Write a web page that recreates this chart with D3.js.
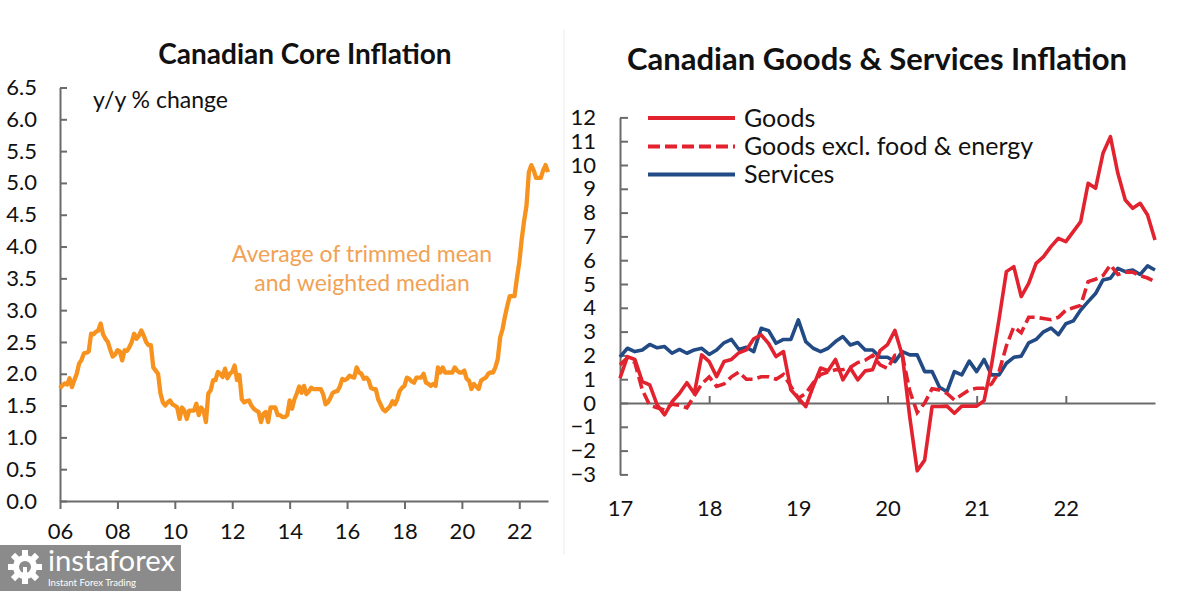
<!DOCTYPE html>
<html>
<head>
<meta charset="utf-8">
<script src="https://cdn.jsdelivr.net/npm/d3@7"></script>
<style>
  html, body { margin: 0; padding: 0; background: #fff; }
  svg { display: block; }
  text { font-family: Lato, "Open Sans", sans-serif; }
</style>
</head>
<body>
<svg id="chart" width="1190" height="591"></svg>
<script>
// ---------------- DATA ----------------
// Left panel: Canadian core inflation, monthly Jan 2006 .. Jan 2023 (y/y %)
const coreInflation = [
  1.77,1.82,1.85,1.83,1.93,1.79,1.90,2.00,2.16,2.22,2.32,2.33, // 2006
  2.35,2.63,2.62,2.66,2.68,2.79,2.62,2.55,2.50,2.38,2.27,2.30, // 2007
  2.37,2.35,2.21,2.37,2.36,2.42,2.50,2.63,2.55,2.60,2.68,2.60, // 2008
  2.50,2.45,2.45,2.10,2.05,2.00,1.69,1.55,1.50,1.55,1.58,1.52, // 2009
  1.50,1.47,1.29,1.47,1.42,1.29,1.42,1.42,1.42,1.53,1.35,1.47, // 2010
  1.42,1.24,1.69,1.74,1.90,1.90,2.03,2.00,1.95,2.08,1.93,2.00, // 2011
  2.03,2.13,1.90,1.98,1.60,1.55,1.57,1.58,1.50,1.45,1.42,1.40, // 2012
  1.24,1.37,1.40,1.24,1.47,1.47,1.47,1.35,1.35,1.32,1.32,1.35, // 2013
  1.58,1.45,1.60,1.69,1.80,1.70,1.81,1.68,1.72,1.78,1.76,1.76, // 2014
  1.76,1.76,1.68,1.52,1.55,1.62,1.70,1.72,1.73,1.80,1.92,1.90, // 2015
  1.92,1.97,1.95,1.94,2.10,2.02,2.00,1.92,1.94,1.90,1.78,1.76, // 2016
  1.76,1.60,1.52,1.44,1.41,1.45,1.49,1.57,1.52,1.60,1.73,1.78, // 2017
  1.81,1.94,1.92,1.88,1.86,1.94,1.94,1.94,2.00,1.86,1.84,1.81, // 2018
  1.84,1.81,2.10,2.02,2.10,2.02,2.02,2.02,2.02,2.10,2.05,2.02, // 2019
  2.02,2.05,1.92,1.89,1.76,1.84,1.80,1.76,1.89,1.92,1.94,2.00, // 2020
  2.02,2.02,2.10,2.23,2.57,2.70,2.90,3.07,3.22,3.22,3.22,3.50, // 2021
  3.75,4.11,4.40,4.64,5.17,5.28,5.20,5.08,5.08,5.08,5.20,5.28, // 2022
  5.17                                                          // 2023
];
const leftStartYear = 2006;
const leftYTicks = [0,0.5,1,1.5,2,2.5,3,3.5,4,4.5,5,5.5,6,6.5];
const leftXTickYears = [2006,2008,2010,2012,2014,2016,2018,2020,2022];
const leftXTickLabels = ["06","08","10","12","14","16","18","20","22"];

// Right panel: goods & services inflation, monthly Jan 2017 .. Jan 2023 (y/y %)
const goods = [
  1.04,1.95,1.83,0.90,0.76,-0.08,-0.50,0.05,0.40,0.85,0.40,2.02,
  1.74,1.11,1.74,1.83,2.11,2.23,2.70,2.86,2.50,1.95,2.16,0.55,
  0.20,-0.15,0.70,1.47,1.36,1.83,0.97,1.47,0.97,1.35,1.40,2.20,
  2.45,3.05,2.00,-0.60,-2.85,-2.40,-0.15,-0.15,-0.13,-0.43,-0.13,-0.13,
  -0.13,0.10,1.60,3.50,5.52,5.73,4.47,5.03,5.87,6.15,6.57,6.92,
  6.78,7.20,7.62,9.23,9.02,10.49,11.19,9.65,8.53,8.18,8.39,7.90,
  6.85
];
const goodsExFoodEnergy = [
  1.60,1.90,1.70,0.55,-0.10,-0.20,-0.30,-0.05,-0.10,-0.20,0.30,0.80,
  1.10,0.70,0.80,1.10,1.30,1.00,1.00,1.10,1.10,1.00,1.20,0.70,
  0.20,0.40,0.85,1.20,1.30,1.40,1.40,1.50,1.70,1.80,2.00,1.60,
  1.45,2.00,2.00,0.50,-0.40,0.00,0.60,0.55,0.40,0.13,0.35,0.55,
  0.62,0.62,0.80,1.30,2.40,3.20,2.95,3.60,3.60,3.55,3.50,3.60,
  3.90,4.00,4.10,5.10,5.20,5.35,5.80,5.40,5.50,5.50,5.35,5.25,
  5.10
];
const services = [
  1.94,2.30,2.16,2.23,2.46,2.32,2.37,2.09,2.25,2.09,2.23,2.30,
  2.04,2.23,2.53,2.67,2.25,2.34,2.16,3.14,3.04,2.51,2.67,2.67,
  3.49,2.58,2.30,2.16,2.30,2.58,2.79,2.44,2.54,2.23,2.23,1.92,
  1.92,1.74,2.16,2.02,2.02,1.32,1.32,0.66,0.48,1.32,1.18,1.76,
  1.32,1.83,1.18,1.18,1.67,1.92,1.97,2.53,2.67,2.99,3.15,2.87,
  3.33,3.45,3.91,4.26,4.60,5.17,5.24,5.66,5.52,5.59,5.40,5.76,
  5.59
];
const rightStartYear = 2017;
const rightYTicks = [-3,-2,-1,0,1,2,3,4,5,6,7,8,9,10,11,12];
const rightXTickYears = [2017,2018,2019,2020,2021,2022];
const rightXTickLabels = ["17","18","19","20","21","22"];
const legendLabels = ["Goods","Goods excl. food & energy","Services"];

// ---------------- STYLE ----------------
const AXIS = "#6b6b6b";
const ORANGE = "#f7921e";
const ORANGE_TEXT = "#f1a255";
const RED = "#e2232f";
const BLUE = "#224a84";

const svg = d3.select("#chart");

// faint panel divider
svg.append("line").attr("x1",564).attr("x2",564).attr("y1",30).attr("y2",555)
  .attr("stroke","#ececec").attr("stroke-width",1);

// ---------------- LEFT PANEL ----------------
const lx = d3.scaleLinear().domain([0, 204]).range([60, 548]);
const ly = d3.scaleLinear().domain([0, 6.5]).range([501, 87.5]);

svg.append("text").attr("x",305).attr("y",64).attr("text-anchor","middle")
  .attr("font-weight","bold").attr("font-size",28).attr("fill","#111")
  .text("Canadian Core Inflation");

const lyAxis = svg.append("g").attr("transform","translate(60,0)")
  .call(d3.axisLeft(ly).tickValues(leftYTicks).tickFormat(d3.format(".1f"))
        .tickSizeInner(-7).tickSizeOuter(0).tickPadding(23));
const lxAxis = svg.append("g").attr("transform","translate(0,501)")
  .call(d3.axisBottom(lx).tickValues(leftXTickYears.map(y => (y-leftStartYear)*12))
        .tickFormat((d,i) => leftXTickLabels[i]).tickSizeInner(8).tickSizeOuter(0).tickPadding(14));
[lyAxis, lxAxis].forEach(g => {
  g.select(".domain").attr("stroke",AXIS).attr("stroke-width",2);
  g.selectAll(".tick line").attr("stroke",AXIS).attr("stroke-width",2);
  g.selectAll(".tick text").attr("font-size",22).attr("fill","#111")
    .attr("font-family","Lato, sans-serif");
});

svg.append("text").attr("x",93).attr("y",108).attr("font-size",23).attr("fill","#111")
  .text("y/y % change");

svg.append("path").datum(coreInflation)
  .attr("fill","none").attr("stroke",ORANGE).attr("stroke-width",4.3)
  .attr("stroke-linejoin","round")
  .attr("d", d3.line().x((d,i) => lx(i)).y(d => ly(d)));

svg.append("text").attr("x",362).attr("y",262).attr("text-anchor","middle")
  .attr("font-size",23).attr("fill",ORANGE_TEXT).text("Average of trimmed mean");
svg.append("text").attr("x",362).attr("y",291).attr("text-anchor","middle")
  .attr("font-size",23).attr("fill",ORANGE_TEXT).text("and weighted median");

// ---------------- RIGHT PANEL ----------------
const rx = d3.scaleLinear().domain([0, 72]).range([620, 1155]);
const ry = d3.scaleLinear().domain([-3, 12]).range([474.4, 117.4]);

svg.append("text").attr("x",877).attr("y",70).attr("text-anchor","middle")
  .attr("font-weight","bold").attr("font-size",31).attr("fill","#111")
  .text("Canadian Goods & Services Inflation");

const ryAxis = svg.append("g").attr("transform","translate(620,0)")
  .call(d3.axisLeft(ry).tickValues(rightYTicks).tickFormat(d3.format("d"))
        .tickSizeInner(-8).tickSizeOuter(0).tickPadding(24));
const rxAxis = svg.append("g").attr("transform",`translate(0,${ry(0)})`)
  .call(d3.axisBottom(rx).tickValues(rightXTickYears.map(y => (y-rightStartYear)*12))
        .tickFormat((d,i) => rightXTickLabels[i]).tickSizeInner(-7).tickSizeOuter(0));
rxAxis.selectAll(".tick text").attr("y", 508 - ry(0) - 8).attr("dy","0.71em");
[ryAxis, rxAxis].forEach(g => {
  g.select(".domain").attr("stroke",AXIS).attr("stroke-width",2);
  g.selectAll(".tick line").attr("stroke",AXIS).attr("stroke-width",2);
  g.selectAll(".tick text").attr("font-size",22).attr("fill","#111")
    .attr("font-family","Lato, sans-serif");
});
// first x tick coincides with y axis; hide its tick line
rxAxis.selectAll(".tick line").filter((d,i) => i === 0).remove();

const rline = d3.line().x((d,i) => rx(i)).y(d => ry(d));
svg.append("path").datum(services).attr("fill","none").attr("stroke",BLUE)
  .attr("stroke-width",3.6).attr("stroke-linejoin","round").attr("d", rline);
svg.append("path").datum(goodsExFoodEnergy).attr("fill","none").attr("stroke",RED)
  .attr("stroke-width",3.6).attr("stroke-dasharray","12,5").attr("d", rline);
svg.append("path").datum(goods).attr("fill","none").attr("stroke",RED)
  .attr("stroke-width",3.6).attr("stroke-linejoin","round").attr("d", rline);

// legend
const legendStyles = [
  {color: RED, dash: null},
  {color: RED, dash: "12,5"},
  {color: BLUE, dash: null}
];
const legendY = [118, 146.5, 174.5];
legendLabels.forEach((lab, i) => {
  svg.append("line").attr("x1",648).attr("x2",735).attr("y1",legendY[i]).attr("y2",legendY[i])
    .attr("stroke",legendStyles[i].color).attr("stroke-width",4)
    .attr("stroke-dasharray",legendStyles[i].dash);
  svg.append("text").attr("x",744).attr("y",legendY[i]).attr("dy","0.35em")
    .attr("font-size",25).attr("fill","#111").text(lab);
});

// ---------------- WATERMARK ----------------
const logo = svg.append("g");
logo.append("rect").attr("x",0).attr("y",545).attr("width",181).attr("height",46).attr("fill","#8b8b8b");
const gear = logo.append("g").attr("transform","translate(25,567)");
for (let k = 0; k < 8; k++) {
  gear.append("rect").attr("x",-3).attr("y",-17).attr("width",6).attr("height",8)
    .attr("fill","#fff").attr("transform",`rotate(${k*45})`);
}
gear.append("circle").attr("r",12).attr("fill","#fff");
gear.append("circle").attr("r",6).attr("fill","#8b8b8b");
gear.append("rect").attr("x",-2).attr("y",0).attr("width",4).attr("height",16).attr("fill","#fff");
logo.append("text").attr("x",48).attr("y",571).attr("font-size",29).attr("fill","#fff")
  .attr("font-family","Lato, sans-serif").attr("textLength",127).attr("lengthAdjust","spacingAndGlyphs")
  .text("instaforex");
logo.append("text").attr("x",48).attr("y",586).attr("font-size",10).attr("fill","#fff")
  .attr("font-family","Arial, 'Liberation Sans', sans-serif").attr("textLength",88)
  .attr("lengthAdjust","spacingAndGlyphs").text("Instant Forex Trading");
</script>
</body>
</html>
